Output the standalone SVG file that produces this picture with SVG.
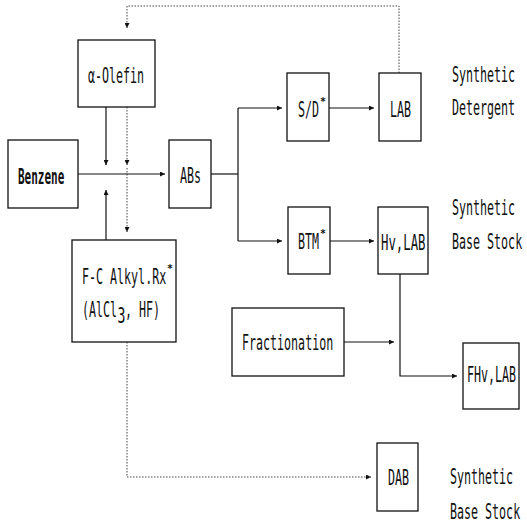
<svg xmlns="http://www.w3.org/2000/svg" width="527" height="525" viewBox="0 0 527 525">
<style>
.box{fill:#fff;stroke:#111;stroke-width:1.3}
.t{font-family:"DejaVu Sans Mono","Liberation Mono",monospace;font-size:22px;fill:#111;dominant-baseline:central}
.a{font-family:"DejaVu Sans Mono","Liberation Mono",monospace;font-size:10px;font-weight:bold;fill:#111}
.s{stroke:#111;stroke-width:1.2;fill:none}
.d{stroke:#444;stroke-width:1;fill:none;stroke-dasharray:1.5,1.5}
</style>
<defs>
<marker id="ar" viewBox="0 0 10 10" refX="10" refY="5" markerWidth="6" markerHeight="5" markerUnits="userSpaceOnUse" orient="auto"><path d="M0,0 L10,5 L0,10 z" fill="#111"/></marker>
</defs>
<rect width="527" height="525" fill="#fff"/>
<g id="connectors">
<path class="d" d="M399,73 V6 H127 V28" marker-end="url(#ar)"/>
<path class="s" d="M106,107 V165" marker-end="url(#ar)"/>
<path class="d" d="M127,107 V165" marker-end="url(#ar)"/>
<path class="d" d="M127,168 V232" marker-end="url(#ar)"/>
<path class="s" d="M78,174 H165" marker-end="url(#ar)"/>
<path class="s" d="M106,240 V190" marker-end="url(#ar)"/>
<path class="d" d="M127,342 V477 H371" marker-end="url(#ar)"/>
<path class="s" d="M211,174 H238"/>
<path class="s" d="M238,108 V241"/>
<path class="s" d="M238,108 H282" marker-end="url(#ar)"/>
<path class="s" d="M238,241 H282" marker-end="url(#ar)"/>
<path class="s" d="M329,108 H374" marker-end="url(#ar)"/>
<path class="s" d="M330,241 H374" marker-end="url(#ar)"/>
<path class="s" d="M400,274 V376 H457" marker-end="url(#ar)"/>
<path class="s" d="M344,342 H394" marker-end="url(#ar)"/>
</g>
<g id="olefin"><rect class="box" x="78" y="40" width="77" height="67"/><text class="t" transform="translate(88 76) scale(0.53 1)">α-Olefin</text></g>
<g id="benzene"><rect class="box" x="8" y="140" width="70" height="68"/><text class="t" transform="translate(18 176) scale(0.5 1)" font-weight="bold">Benzene</text></g>
<g id="abs"><rect class="box" x="169" y="140" width="42" height="68"/><text class="t" transform="translate(180 176) scale(0.53 1)">ABs</text></g>
<g id="fc"><rect class="box" x="72" y="240" width="104" height="102"/>
<text class="t" transform="translate(82 277) scale(0.53 1)">F-C Alkyl.Rx</text><text class="a" x="167" y="272">*</text>
<text class="t" transform="translate(82 310) scale(0.53 1)">(AlCl</text><text class="t" font-size="13" transform="translate(117.5 315) scale(0.6 1)">3</text><text class="t" transform="translate(125 310) scale(0.53 1)">, HF)</text></g>
<g id="sd"><rect class="box" x="287" y="73" width="42" height="68"/><text class="t" transform="translate(298 110) scale(0.53 1)">S/D</text><text class="a" x="320" y="105">*</text></g>
<g id="lab"><rect class="box" x="379" y="73" width="42" height="68"/><text class="t" transform="translate(390 110) scale(0.53 1)">LAB</text></g>
<g id="btm"><rect class="box" x="288" y="207" width="42" height="67"/><text class="t" transform="translate(298 242) scale(0.53 1)">BTM</text><text class="a" x="320" y="237">*</text></g>
<g id="hvlab"><rect class="box" x="378" y="207" width="50" height="67"/><text class="t" transform="translate(381 242) scale(0.56 1)">Hv,LAB</text></g>
<g id="fract"><rect class="box" x="232" y="308" width="112" height="68"/><text class="t" transform="translate(242 343) scale(0.53 1)">Fractionation</text></g>
<g id="fhvlab"><rect class="box" x="463" y="343" width="56" height="66"/><text class="t" transform="translate(467 375) scale(0.53 1)">FHv,LAB</text></g>
<g id="dab"><rect class="box" x="377" y="443" width="41" height="68"/><text class="t" transform="translate(388 478) scale(0.53 1)">DAB</text></g>
<g id="labels">
<text class="t" transform="translate(452 75) scale(0.53 1)">Synthetic</text>
<text class="t" transform="translate(452 108) scale(0.53 1)">Detergent</text>
<text class="t" transform="translate(452 208) scale(0.53 1)">Synthetic</text>
<text class="t" transform="translate(452 242) scale(0.53 1)">Base Stock</text>
<text class="t" transform="translate(450 477) scale(0.53 1)">Synthetic</text>
<text class="t" transform="translate(450 512) scale(0.53 1)">Base Stock</text>
</g>
</svg>
